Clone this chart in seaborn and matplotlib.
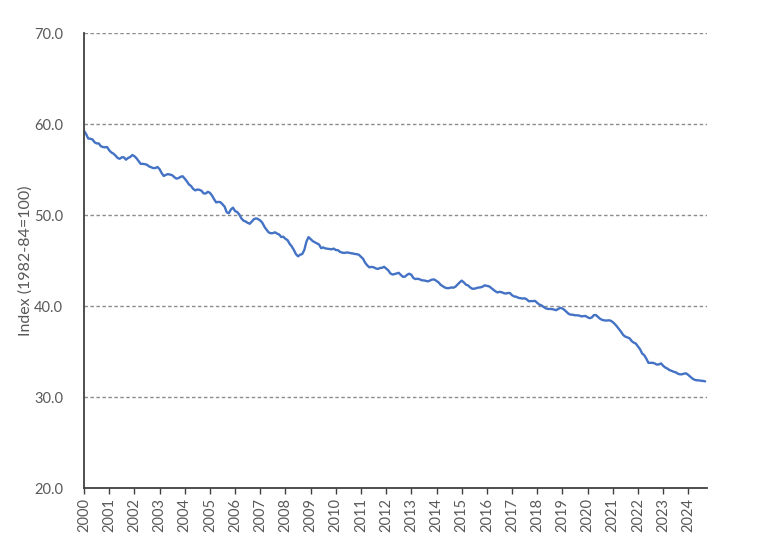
import numpy as np
import pandas as pd
import seaborn as sns
import matplotlib.pyplot as plt

# monthly index values (1982-84=100), Jan 2000 - Sep 2024
idx_2000 = [59.24, 58.89, 58.41, 58.38, 58.31, 58.00, 57.87, 57.87, 57.57, 57.47, 57.44, 57.47]
idx_2001 = [57.11, 56.88, 56.75, 56.53, 56.27, 56.18, 56.34, 56.34, 56.08, 56.27, 56.37, 56.59]
idx_2002 = [56.47, 56.24, 55.93, 55.62, 55.62, 55.59, 55.52, 55.34, 55.25, 55.16, 55.16, 55.28]
idx_2003 = [55.04, 54.61, 54.29, 54.41, 54.50, 54.44, 54.38, 54.17, 54.00, 54.05, 54.20, 54.26]
idx_2004 = [54.00, 53.71, 53.36, 53.19, 52.88, 52.71, 52.80, 52.77, 52.66, 52.38, 52.36, 52.55]
idx_2005 = [52.44, 52.14, 51.73, 51.39, 51.44, 51.41, 51.18, 50.92, 50.30, 50.20, 50.61, 50.81]
idx_2006 = [50.43, 50.33, 50.05, 49.63, 49.38, 49.29, 49.14, 49.04, 49.29, 49.55, 49.63, 49.55]
idx_2007 = [49.40, 49.14, 48.70, 48.38, 48.09, 48.00, 48.01, 48.10, 47.96, 47.86, 47.58, 47.61]
idx_2008 = [47.38, 47.24, 46.83, 46.55, 46.16, 45.70, 45.46, 45.64, 45.71, 46.17, 47.08, 47.57]
idx_2009 = [47.36, 47.13, 47.01, 46.90, 46.76, 46.36, 46.44, 46.33, 46.30, 46.26, 46.23, 46.31]
idx_2010 = [46.15, 46.14, 45.95, 45.87, 45.83, 45.88, 45.87, 45.81, 45.78, 45.72, 45.70, 45.63]
idx_2011 = [45.41, 45.19, 44.75, 44.46, 44.25, 44.30, 44.26, 44.14, 44.07, 44.17, 44.20, 44.31]
idx_2012 = [44.12, 43.92, 43.59, 43.46, 43.51, 43.58, 43.65, 43.41, 43.21, 43.23, 43.44, 43.55]
idx_2013 = [43.43, 43.07, 42.96, 43.00, 42.93, 42.83, 42.81, 42.76, 42.71, 42.82, 42.91, 42.91]
idx_2014 = [42.75, 42.59, 42.32, 42.18, 42.03, 41.96, 41.97, 42.04, 42.01, 42.12, 42.35, 42.59]
idx_2015 = [42.79, 42.60, 42.35, 42.27, 42.05, 41.90, 41.90, 41.96, 42.03, 42.05, 42.13, 42.28]
idx_2016 = [42.21, 42.17, 41.99, 41.80, 41.63, 41.49, 41.56, 41.52, 41.42, 41.37, 41.43, 41.42]
idx_2017 = [41.18, 41.05, 41.02, 40.90, 40.86, 40.82, 40.85, 40.73, 40.52, 40.54, 40.54, 40.56]
idx_2018 = [40.34, 40.16, 40.07, 39.91, 39.75, 39.68, 39.68, 39.66, 39.61, 39.54, 39.68, 39.80]
idx_2019 = [39.73, 39.56, 39.34, 39.13, 39.05, 39.04, 38.98, 38.98, 38.95, 38.86, 38.88, 38.91]
idx_2020 = [38.76, 38.66, 38.74, 39.00, 39.00, 38.79, 38.59, 38.47, 38.42, 38.40, 38.43, 38.39]
idx_2021 = [38.23, 38.02, 37.75, 37.45, 37.15, 36.81, 36.63, 36.55, 36.45, 36.15, 35.98, 35.87]
idx_2022 = [35.57, 35.25, 34.78, 34.59, 34.21, 33.75, 33.75, 33.76, 33.69, 33.56, 33.59, 33.69]
idx_2023 = [33.43, 33.24, 33.13, 32.96, 32.88, 32.78, 32.71, 32.57, 32.49, 32.50, 32.57, 32.60]
idx_2024 = [32.42, 32.22, 32.02, 31.89, 31.84, 31.83, 31.79, 31.77, 31.72]

yearly = [idx_2000, idx_2001, idx_2002, idx_2003, idx_2004, idx_2005, idx_2006,
          idx_2007, idx_2008, idx_2009, idx_2010, idx_2011, idx_2012, idx_2013,
          idx_2014, idx_2015, idx_2016, idx_2017, idx_2018, idx_2019, idx_2020,
          idx_2021, idx_2022, idx_2023, idx_2024]
years = list(range(2000, 2025))

rows = []
for yr, vals in zip(years, yearly):
    for m, v in enumerate(vals):
        rows.append({"t": yr + m / 12, "index": v})
df = pd.DataFrame(rows)

sns.set_style("white")
plt.rcParams['font.family'] = ['Lato', 'DejaVu Sans']

fig = plt.figure(figsize=(7.78, 5.55), dpi=100)
ax = fig.add_axes([0.108, 0.1207, 0.801, 0.8198])

sns.lineplot(data=df, x="t", y="index", color="#4472C4", linewidth=1.7, ax=ax)

ax.set_xlim(2000, 2000 + len(df) / 12)
ax.set_ylim(20, 70)
ax.set_yticks(np.arange(20, 71, 10))
ax.set_yticklabels([f"{v:.1f}" for v in np.arange(20, 71, 10)])
ax.set_xticks(years)
ax.set_xticklabels([str(y) for y in years], rotation=90)

# dashed gridlines (not on the 20 baseline)
for v in range(30, 71, 10):
    ax.axhline(v, color="#8c8c8c", linestyle=(0, (2.5, 1.8)), linewidth=1.0, zorder=0)

ax.tick_params(axis="x", colors="#595959", labelsize=10.5, length=4, width=1,
               direction="out", bottom=True, pad=3)
ax.tick_params(axis="x", color="#404040")
ax.tick_params(axis="y", colors="#595959", labelsize=10.5, length=0, pad=15)

for s in ["top", "right"]:
    ax.spines[s].set_visible(False)
for s in ["left", "bottom"]:
    ax.spines[s].set_color("#404040")
    ax.spines[s].set_linewidth(1.3)

ax.set_xlabel("")
ax.set_ylabel("Index (1982-84=100)", color="#595959", fontsize=11.5, labelpad=1)

fig.savefig("out.png", dpi=100)
